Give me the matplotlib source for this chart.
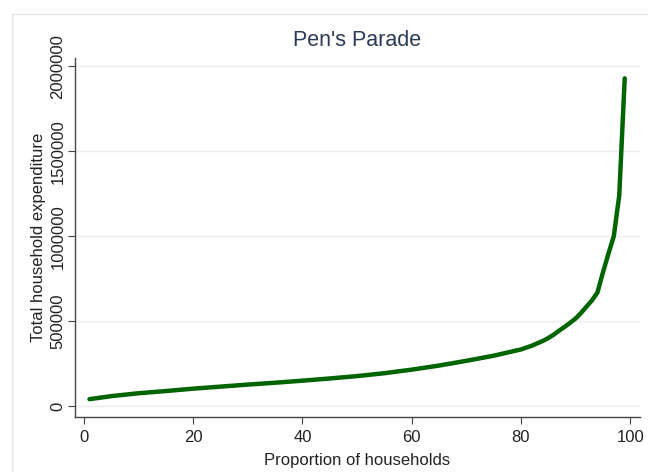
import matplotlib
matplotlib.use("Agg")
import matplotlib.pyplot as plt
from matplotlib.patches import Rectangle

plt.rcParams['font.family'] = ['Liberation Sans', 'DejaVu Sans']

# percentile of households vs total household expenditure
pct = [1, 5, 10, 15, 20, 25, 30, 35, 40, 45, 50, 55, 60, 65, 70, 75, 80,
       82, 84, 85, 86, 87, 88, 89, 90, 91, 92, 93, 94, 95, 96, 97, 98, 99]
expenditure = [40000, 58000, 75000, 88000, 102000, 114000, 126000, 137000,
               149000, 162000, 176000, 193000, 214000, 238000, 266000, 296000,
               333000, 355000, 383000, 400000, 420000, 444000, 466000, 490000,
               515000, 548000, 585000, 622000, 668000, 785000, 895000,
               1000000, 1240000, 1930000]

x_ticks = [0, 20, 40, 60, 80, 100]
y_ticks = [0, 500000, 1000000, 1500000, 2000000]

W, H = 648, 472
fig = plt.figure(figsize=(W / 100, H / 100), dpi=100)
fig.patch.set_facecolor('white')

# light outer frame of the graph region
fig.patches.append(Rectangle((12 / W, -0.05), 1.0, 1 - 14 / H + 0.05,
                             transform=fig.transFigure, fill=False,
                             edgecolor='#e6e6e6', linewidth=1))

ax = fig.add_axes([75 / W, 1 - 417 / H, (640 - 75) / W, (417 - 58) / H])
ax.plot(pct, expenditure, color='#006400', linewidth=3.2,
        solid_capstyle='round', solid_joinstyle='round')

ax.set_xlim(-1.65, 101.8)
ax.set_ylim(-65000, 2050000)
ax.set_xticks(x_ticks)
ax.set_yticks(y_ticks)
ax.set_yticklabels([str(v) for v in y_ticks], rotation=90, va='center')

for sp in ['top', 'right']:
    ax.spines[sp].set_visible(False)
for sp in ['left', 'bottom']:
    ax.spines[sp].set_color('#444444')
    ax.spines[sp].set_linewidth(1)

ax.grid(axis='y', color='#ececec', linewidth=1)
ax.set_axisbelow(True)
ax.tick_params(axis='x', labelsize=12, length=5, color='#444444',
               labelcolor='#222222', pad=4)
ax.tick_params(axis='y', labelsize=12, length=5, color='#444444',
               labelcolor='#222222', pad=2)

ax.set_xlabel('Proportion of households', fontsize=12, color='#222222', labelpad=6)
ax.set_ylabel('Total household expenditure', fontsize=12, color='#222222', labelpad=3)
fig.text(357 / W, 1 - 40 / H, "Pen's Parade", fontsize=15.5, color='#2b3a55',
         ha='center', va='center')

fig.savefig('out.png', dpi=100, facecolor='white')
